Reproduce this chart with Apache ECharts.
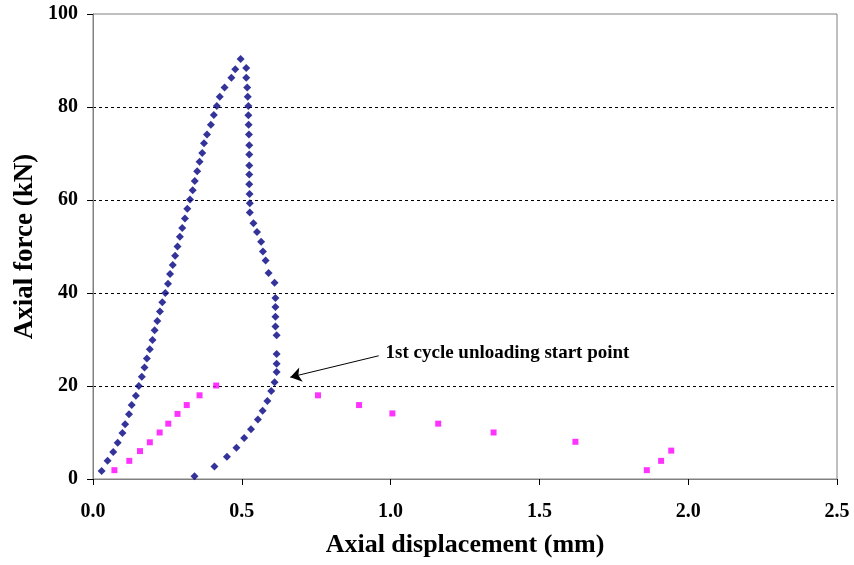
<!DOCTYPE html>
<html>
<head>
<meta charset="utf-8">
<script src="https://cdn.jsdelivr.net/npm/echarts@6/dist/echarts.min.js"></script>
<style>html,body{margin:0;padding:0;background:#fff;}#c{width:854px;height:565px;}</style>
</head>
<body>
<div id="c"></div>
<script>
// First cycle: loading then unloading (blue diamonds)
const cycle1X = [0.029,0.049,0.068,0.083,0.099,0.108,0.121,0.130,0.144,0.154,0.164,0.173,0.181,0.191,0.200,0.207,0.216,0.225,0.233,0.243,0.252,0.259,0.268,0.276,0.284,0.292,0.300,0.309,0.317,0.326,0.335,0.342,0.350,0.358,0.367,0.373,0.383,0.396,0.406,0.416,0.426,0.442,0.465,0.478,0.496,
  0.515,0.515,0.518,0.520,0.522,0.522,0.523,0.524,0.525,0.525,0.525,0.525,0.525,0.526,0.527,0.527,0.539,0.551,0.565,0.571,0.580,0.590,0.610,0.613,0.613,0.613,0.613,0.617,0.617,0.617,0.617,0.610,0.599,0.586,0.570,0.554,0.531,0.508,0.482,0.450,0.408,0.341];
const cycle1Y = [1.7,3.9,5.8,7.8,9.9,11.8,13.9,15.9,17.9,20.0,22.0,24.0,25.9,27.9,29.9,32.0,34.0,36.0,38.0,40.0,42.0,44.1,46.0,48.0,50.0,52.1,54.0,56.0,58.1,60.1,62.1,64.1,66.2,68.2,70.1,72.2,74.1,76.2,78.3,80.2,82.2,84.2,86.3,88.1,90.3,
  88.4,86.3,84.2,82.2,80.2,78.2,76.2,74.1,71.8,69.8,67.4,65.5,63.4,61.3,59.3,57.3,55.0,53.1,51.0,48.9,47.0,44.3,42.2,38.9,37.0,34.9,32.8,30.9,26.9,24.8,23.0,20.8,18.9,16.8,14.7,12.8,10.7,8.8,6.7,4.8,2.7,0.6];
// Second series (magenta squares)
const cycle2X = [0.072,0.122,0.158,0.191,0.224,0.253,0.284,0.315,0.358,0.414,0.756,0.894,1.006,1.160,1.346,1.621,1.861,1.909,1.943];
const cycle2Y = [1.9,3.9,6.0,7.9,10.0,11.9,14.0,15.9,18.0,20.1,18.0,15.9,14.1,11.9,10.0,8.0,1.9,3.9,6.1];
const xTicks = {min:0, max:2.5, interval:0.5};
const yTicks = {min:0, max:100, interval:20};
const annotationText = '1st cycle unloading start point';

const font = 'Liberation Serif';
const pair = (xs, ys) => xs.map((v, i) => [v, ys[i]]);

const chart = echarts.init(document.getElementById('c'));
chart.setOption({
  animation: false,
  backgroundColor: '#fff',
  grid: {left: 93, right: 17, top: 14, bottom: 86, show: true, borderColor: '#808080', borderWidth: 1, backgroundColor: 'transparent'},
  xAxis: {
    type: 'value', min: xTicks.min, max: xTicks.max, interval: xTicks.interval,
    name: 'Axial displacement (mm)', nameLocation: 'middle', nameGap: 53, nameMoveOverlap: false,
    nameTextStyle: {fontFamily: font, fontWeight: 'bold', fontSize: 26, color: '#000'},
    axisLine: {show: true, lineStyle: {color: '#808080', width: 1}},
    axisTick: {show: true, inside: false, length: 6, lineStyle: {color: '#000'}},
    axisLabel: {fontFamily: font, fontWeight: 'bold', fontSize: 20, color: '#000', margin: 23, formatter: v => v.toFixed(1)},
    splitLine: {show: false}
  },
  yAxis: {
    type: 'value', min: yTicks.min, max: yTicks.max, interval: yTicks.interval,
    name: 'Axial force (kN)', nameLocation: 'middle', nameGap: 54, nameMoveOverlap: false,
    nameTextStyle: {fontFamily: font, fontWeight: 'bold', fontSize: 27, color: '#000'},
    axisLine: {show: true, lineStyle: {color: '#808080', width: 1}},
    axisTick: {show: true, inside: false, length: 6, lineStyle: {color: '#000'}},
    axisLabel: {fontFamily: font, fontWeight: 'bold', fontSize: 20, color: '#000', margin: 15},
    splitLine: {show: true, showMinLine: false, showMaxLine: false, lineStyle: {color: '#000', type: [3, 3], width: 1}}
  },
  series: [
    {
      type: 'scatter', data: pair(cycle1X, cycle1Y), symbol: 'diamond', symbolSize: 8,
      itemStyle: {color: '#000080'},
      markLine: {
        silent: true, symbol: ['none', 'arrow'], symbolSize: 11,
        lineStyle: {color: '#000', width: 1, type: 'solid'},
        itemStyle: {color: '#000'},
        label: {show: false},
        data: [[{coord: [0.960, 26.5]}, {coord: [0.663, 21.9]}]]
      },
      markPoint: {
        silent: true, symbol: 'circle', symbolSize: 0,
        label: {show: true, position: 'right', distance: 0, formatter: annotationText,
          fontFamily: font, fontWeight: 'bold', fontSize: 19, color: '#000'},
        data: [{coord: [0.983, 27.1]}]
      }
    },
    {
      type: 'scatter', data: pair(cycle2X, cycle2Y), symbol: 'rect', symbolSize: 6,
      itemStyle: {color: '#ff00ff'}
    }
  ]
});
</script>
</body>
</html>
